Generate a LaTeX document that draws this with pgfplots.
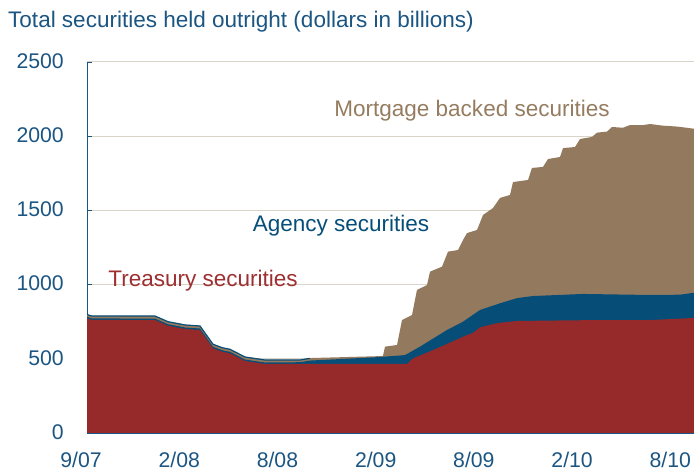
\documentclass[border=0pt]{standalone}
\usepackage{pgfplots}
\pgfplotsset{compat=1.18}
\usepackage{fontspec}
\setmainfont{Liberation Sans}
\definecolor{tred}{HTML}{962A2B}
\definecolor{ablue}{HTML}{064E78}
\definecolor{mbrown}{HTML}{937A5E}
\definecolor{txtblue}{HTML}{1B5582}
\definecolor{redtxt}{HTML}{9E2F31}
\definecolor{browntxt}{HTML}{957C60}
\definecolor{gridc}{HTML}{DAD4C8}
\begin{document}
\begin{tikzpicture}
\begin{axis}[
  at={(87bp,40bp)}, anchor=south west,
  scale only axis, width=607bp, height=371bp,
  xmin=0, xmax=37.08, ymin=0, ymax=2500,
  axis x line*=bottom, axis y line*=left,
  axis line style={color=txtblue, line width=1bp},
  xtick={0,6,...,36},
  xticklabels={9/07,2/08,8/08,2/09,8/09,2/10,8/10},
  ytick={0,500,...,2500},
  tick align=inside, major tick length=5bp,
  tick style={color=txtblue, line width=0.8bp},
  ymajorgrids, grid style={gridc, line width=1bp},
  ticklabel style={font=\fontsize{21.3}{24}\selectfont, text=txtblue},
  yticklabel style={anchor=east, inner sep=0pt, xshift=-23bp, yshift=1bp},
  xticklabel style={anchor=north, inner sep=0pt, yshift=-19bp, xshift=-6bp},
  /pgf/number format/assume math mode=true,
  /pgf/number format/1000 sep={},
]
% Total (Treasury + Agency + MBS)
\addplot[fill=mbrown, draw=none] coordinates {
(0,800) (0.305,790) (4.154,790) (4.948,752) (5.987,730) (6.903,723) (7.697,600) (8.247,577) (8.736,566) (9.652,514) (10.874,494) (13.012,494) (13.623,505) (17.899,518) (18.082,520) (18.204,582) (18.937,593) (19.243,761) (19.853,795) (20.159,964) (20.770,997) (20.953,1087) (21.686,1121) (22.053,1222) (22.664,1233) (22.969,1300) (23.213,1347) (23.824,1368) (24.191,1469) (24.802,1516) (25.229,1584) (25.840,1604) (26.023,1691) (26.940,1705) (27.184,1786) (27.856,1793) (28.161,1846) (28.894,1860) (29.078,1920) (29.811,1927) (30.116,1981) (30.849,1995) (31.154,2024) (31.765,2031) (32.071,2062) (32.743,2057) (33.170,2075) (33.965,2075) (34.392,2082) (35.186,2071) (36.041,2065) (36.775,2055) (37.08,2050)
} \closedcycle;
% Treasury + Agency
\addplot[fill=ablue, draw=none] coordinates {
(0,783) (0.305,772) (4.154,771) (4.948,733) (5.987,711) (6.903,704) (7.697,581) (8.247,558) (8.736,547) (9.652,495) (10.874,475) (13.012,477) (13.623,488) (17.899,512) (19.426,525) (20.342,582) (21.991,694) (22.969,750) (24.008,829) (25.229,874) (26.268,909) (27.245,923) (30.299,937) (34.392,930) (36.225,932) (37.08,945)
} \closedcycle;
% Treasury
\addplot[fill=tred, draw=none] coordinates {
(0,773) (0.305,762) (4.154,761) (4.948,723) (5.987,701) (6.903,694) (7.697,571) (8.247,548) (8.736,537) (9.652,485) (10.874,465) (19.548,465) (19.914,503) (20.953,550) (21.991,600) (22.969,649) (23.580,675) (24.008,712) (24.802,734) (25.229,743) (26.268,755) (30.299,760) (34.392,761) (37.08,775)
} \closedcycle;
% outline of the early total
\addplot[draw=ablue, line width=1.2bp] coordinates {
(0,798) (0.305,788) (4.154,788) (4.948,750) (5.987,728) (6.903,721) (7.697,598) (8.247,575) (8.736,564) (9.652,512) (10.874,492) (13.012,492) (13.623,503)
};
\node[text=redtxt, font=\fontsize{22.6}{25}\selectfont] at (axis cs:7.09,1026) {Treasury securities};
\node[text=ablue, font=\fontsize{22.6}{25}\selectfont] at (axis cs:15.52,1397) {Agency securities};
\node[text=browntxt, font=\fontsize{22.6}{25}\selectfont] at (axis cs:23.52,2172) {Mortgage backed securities};
\end{axis}
\node[anchor=base west, text=txtblue, font=\fontsize{22.6}{25}\selectfont, inner sep=0pt] at (8bp,445bp) {Total securities held outright (dollars in billions)};
\pgfresetboundingbox
\useasboundingbox (0,0) rectangle (694bp,473bp);
\end{tikzpicture}
\end{document}
